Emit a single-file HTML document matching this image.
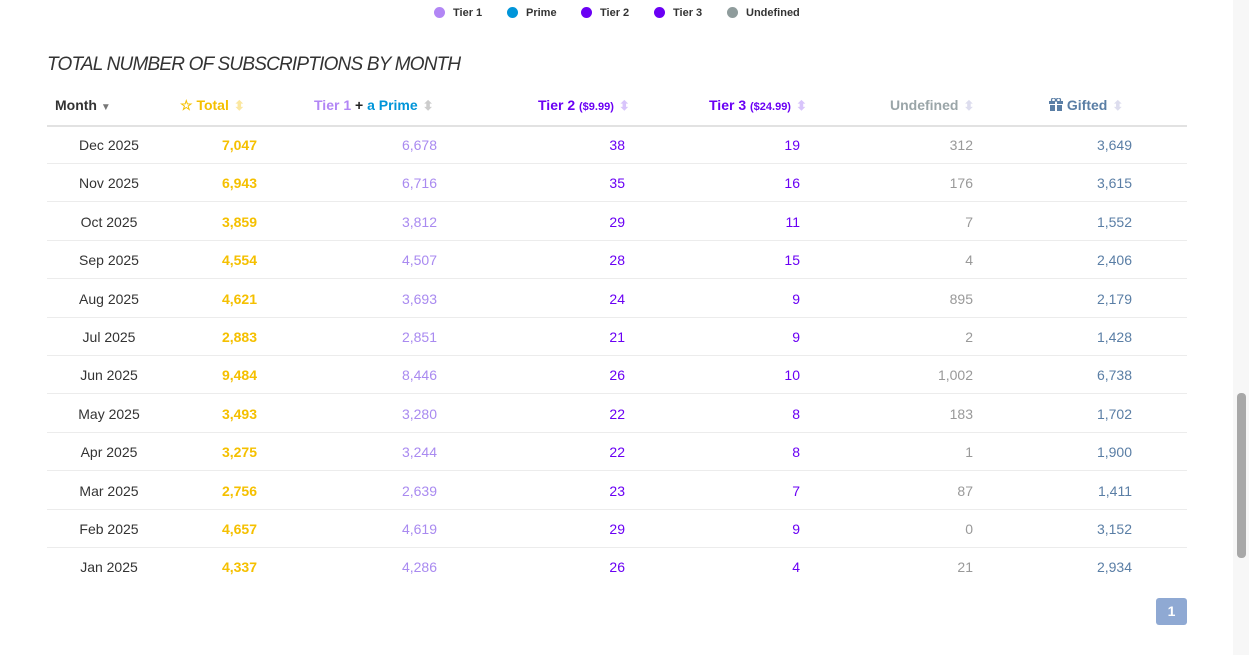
<!DOCTYPE html>
<html><head><style>
body{margin:0;width:1249px;height:655px;background:#fff;font-family:"Liberation Sans",sans-serif;position:relative;overflow:hidden}
.a{position:absolute;white-space:nowrap}
.dot{position:absolute;width:11px;height:11px;border-radius:50%;top:7px}
.lg{position:absolute;top:7px;font-size:11px;font-weight:bold;color:#333}
.h{position:absolute;top:97px;font-size:14px;font-weight:bold}
.s{font-size:13px;color:#ccc;margin-left:5px}
.r{position:absolute;left:47px;width:1140px;height:1px;background:#ececec}
.c{position:absolute;font-size:14px;text-align:right;width:100px}
</style></head><body>
<div class="dot" style="left:434px;background:#b286f5"></div><div class="lg" style="left:453px">Tier 1</div>
<div class="dot" style="left:507px;background:#0095d9"></div><div class="lg" style="left:526px">Prime</div>
<div class="dot" style="left:581px;background:#6a00f4"></div><div class="lg" style="left:600px">Tier 2</div>
<div class="dot" style="left:654px;background:#6a00f4"></div><div class="lg" style="left:673px">Tier 3</div>
<div class="dot" style="left:727px;background:#8f9c9c"></div><div class="lg" style="left:746px">Undefined</div>
<div class="a" style="left:47px;top:54px;font-size:19px;font-style:italic;color:#333;letter-spacing:-0.8px">TOTAL NUMBER OF SUBSCRIPTIONS BY MONTH</div>
<div class="h" style="left:55px;color:#333">Month <span style="color:#777;font-size:10px">▼</span></div>
<div class="h" style="left:180px;color:#f5c000">☆ Total<span class="s" style="color:#fbe7a0">⬍</span></div>
<div class="h" style="left:314px;color:#b286f5">Tier 1 <span style="color:#222">+</span> <span style="color:#0095d9">a Prime</span><span class="s">⬍</span></div>
<div class="h" style="left:538px;color:#6a00f4">Tier 2 <span style="font-size:11px">($9.99)</span><span class="s" style="color:#d8c4fb">⬍</span></div>
<div class="h" style="left:709px;color:#6a00f4">Tier 3 <span style="font-size:11px">($24.99)</span><span class="s" style="color:#d8c4fb">⬍</span></div>
<div class="h" style="left:890px;color:#9aa5a8">Undefined<span class="s" style="color:#dde">⬍</span></div>
<div class="h" style="left:1049px;color:#5a7ea5"><svg width="14" height="13" viewBox="0 0 14 13" style="vertical-align:-1px"><rect x="0" y="3" width="14" height="3" fill="#5a7ea5"/><rect x="1" y="7" width="12" height="6" fill="#5a7ea5"/><rect x="6" y="3" width="2" height="10" fill="#fff"/><circle cx="4.5" cy="2" r="2" fill="none" stroke="#5a7ea5" stroke-width="1.3"/><circle cx="9.5" cy="2" r="2" fill="none" stroke="#5a7ea5" stroke-width="1.3"/></svg> Gifted<span class="s" style="color:#dde">⬍</span></div>
<div class="r" style="top:125px;background:#e2e2e2;height:2px"></div>
<div id="rows"></div>
<script>
var d=[["Dec 2025","7,047","6,678",38,19,"312","3,649"],["Nov 2025","6,943","6,716",35,16,"176","3,615"],["Oct 2025","3,859","3,812",29,11,"7","1,552"],["Sep 2025","4,554","4,507",28,15,"4","2,406"],["Aug 2025","4,621","3,693",24,9,"895","2,179"],["Jul 2025","2,883","2,851",21,9,"2","1,428"],["Jun 2025","9,484","8,446",26,10,"1,002","6,738"],["May 2025","3,493","3,280",22,8,"183","1,702"],["Apr 2025","3,275","3,244",22,8,"1","1,900"],["Mar 2025","2,756","2,639",23,7,"87","1,411"],["Feb 2025","4,657","4,619",29,9,"0","3,152"],["Jan 2025","4,337","4,286",26,4,"21","2,934"]];
var h="",rx=[257,437,625,800,973,1132],col=["#f5c000","#a98af0","#6a00f4","#6a00f4","#999","#5a7ea5"];
d.forEach(function(r,i){var y=137+i*38.4;
h+='<div class="c" style="left:59px;top:'+y+'px;text-align:center;color:#333">'+r[0]+'</div>';
for(var j=0;j<6;j++)h+='<div class="c" style="left:'+(rx[j]-100)+'px;top:'+y+'px;color:'+col[j]+(j==0?';font-weight:bold':'')+'">'+r[j+1]+'</div>';
if(i<11)h+='<div class="r" style="top:'+(y+26)+'px"></div>';});
document.getElementById("rows").innerHTML=h;
</script>
<div class="a" style="left:1156px;top:598px;width:31px;height:27px;background:#8fa9d3;border-radius:3px;color:#fff;font-weight:bold;font-size:14px;text-align:center;line-height:27px">1</div>
<div class="a" style="left:1233px;top:0;width:16px;height:655px;background:#f7f7f7"></div>
<div class="a" style="left:1237px;top:393px;width:9px;height:165px;background:#a8a8a8;border-radius:4px"></div>
</body></html>
